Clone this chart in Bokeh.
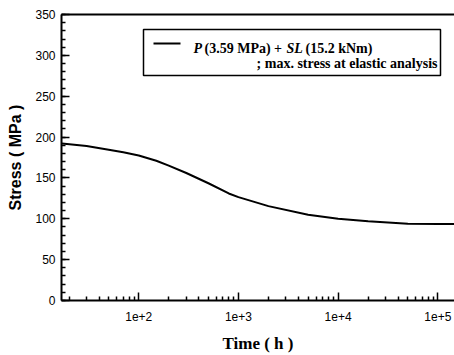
from bokeh.plotting import figure
from bokeh.models import (Range1d, LogAxis, FixedTicker, SingleIntervalTicker,
                          BoxAnnotation, Label, Arrow)
from bokeh.embed import file_html
from bokeh.resources import INLINE

# ---- data ----
time_h = [17, 30, 50, 70, 100, 150, 200, 300, 500, 800, 1000, 2000,
          5000, 10000, 20000, 50000, 100000, 147000]
stress_mpa = [192, 189, 184.5, 181.5, 177.5, 171, 165, 156, 143.5, 131,
              126.5, 115.5, 105, 100, 97, 93.8, 93.5, 93.5]

x_major = [100, 1000, 10000, 100000]
x_labels = ["1e+2", "1e+3", "1e+4", "1e+5"]
x_minor = [k * d for d in [10, 100, 1000, 10000] for k in range(2, 10)]

legend_parts = [("P", "bold italic"), ("(3.59 MPa) +", "bold"),
                ("SL", "bold italic"), ("(15.2 kNm)", "bold")]
legend_line2 = "; max. stress at elastic analysis"

p = figure(width=454, height=355, x_axis_type="log",
           x_range=Range1d(16.8, 1.47e5), y_range=Range1d(0, 350),
           output_backend="svg", toolbar_location=None,
           min_border_left=61, min_border_right=0,
           min_border_top=14, min_border_bottom=53)
p.outline_line_color = None
p.xgrid.visible = False
p.ygrid.visible = False
p.background_fill_color = "white"
p.border_fill_color = "white"

p.line(time_h, stress_mpa, line_color="black", line_width=2)

# x axis
xa = p.xaxis[0]
xa.ticker = FixedTicker(ticks=x_major, minor_ticks=x_minor)
xa.major_label_overrides = {t: l for t, l in zip(x_major, x_labels)}
xa.axis_label = "Time ( h )"
xa.axis_label_text_font = "Liberation Serif"
xa.axis_label_text_font_style = "bold"
xa.axis_label_text_font_size = "17px"
xa.axis_label_standoff = 10
xa.major_label_text_font = "Liberation Sans"
xa.major_label_text_font_size = "12px"
xa.major_label_standoff = 11

# y axis
ya = p.yaxis[0]
ya.ticker = SingleIntervalTicker(interval=50, num_minor_ticks=5)
ya.axis_label = "Stress ( MPa )"
ya.axis_label_text_font = "Liberation Sans"
ya.axis_label_text_font_style = "bold"
ya.axis_label_text_font_size = "16px"
ya.axis_label_standoff = 8
ya.major_label_text_font = "Liberation Sans"
ya.major_label_text_font_size = "12px"
ya.major_label_standoff = 6

for ax in (xa, ya):
    ax.axis_line_width = 2
    ax.axis_line_color = "black"
    ax.major_tick_in = 8
    ax.major_tick_out = 0
    ax.minor_tick_in = 4
    ax.minor_tick_out = 0
    ax.major_tick_line_width = 1.5
    ax.minor_tick_line_width = 1.5
    ax.major_label_text_color = "black"
    ax.axis_label_text_color = "black"

# top border line
top = LogAxis(ticker=FixedTicker(ticks=[]), axis_line_width=2,
              major_tick_out=0, minor_tick_out=0, major_tick_in=0, minor_tick_in=0,
              major_label_text_font_size="0px", major_label_standoff=0)
p.add_layout(top, "above")

# legend (screen units relative to frame)
p.add_layout(BoxAnnotation(left=82, right=379, top=271, bottom=225,
                           left_units="screen", right_units="screen",
                           top_units="screen", bottom_units="screen",
                           fill_color="white", fill_alpha=1.0,
                           line_color="black", line_width=1.5, line_alpha=1.0))
p.add_layout(Arrow(x_start=92, y_start=257, x_end=119, y_end=257,
                   start_units="screen", end_units="screen", end=None,
                   line_color="black", line_width=2))
xs = [132, 143, 225, 244]
for (txt, style), xpos in zip(legend_parts, xs):
    p.add_layout(Label(x=xpos, y=252, x_units="screen", y_units="screen",
                       text=txt, text_font="Liberation Serif",
                       text_font_style=style, text_font_size="14px",
                       text_baseline="alphabetic", text_color="black"))
p.add_layout(Label(x=376, y=237, x_units="screen", y_units="screen",
                   text=legend_line2, text_font="Liberation Serif",
                   text_font_style="bold", text_font_size="14px",
                   text_align="right", text_baseline="alphabetic",
                   text_color="black"))

open("out.html", "w").write(file_html(p, INLINE))
